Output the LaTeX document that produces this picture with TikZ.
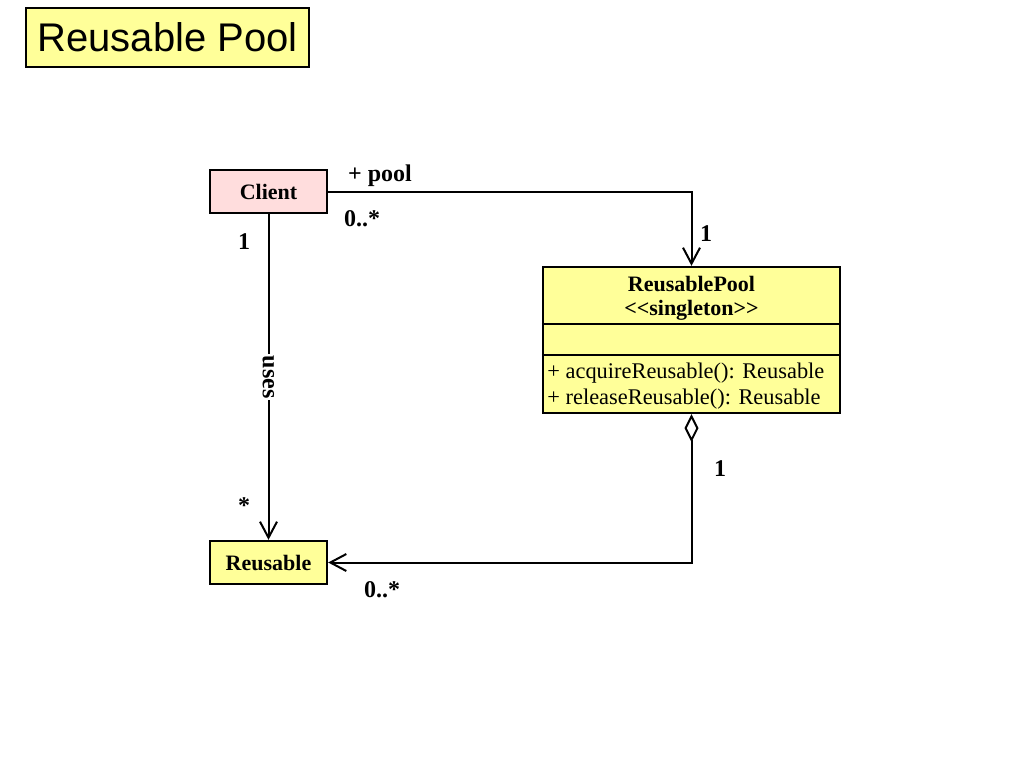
\documentclass[tikz,border=0pt]{standalone}
\usepackage{fontspec}
\setmainfont{Liberation Serif}
\newfontfamily\titlefont{Liberation Sans}
\usetikzlibrary{arrows.meta,positioning}
\definecolor{classyellow}{RGB}{255,255,153}
\definecolor{clientpink}{RGB}{255,221,221}

\begin{document}
\begin{tikzpicture}[x=0.5pt,y=-0.5pt,
    classbox/.style={draw,line width=1.2pt,minimum width=58.5pt,minimum height=21.5pt,inner sep=0pt,
      font=\fontsize{11}{13}\selectfont\bfseries},
    assoc/.style={line width=1pt,-{Straight Barb[length=8pt,width=8.5pt]}},
    mult/.style={inner sep=0pt,font=\fontsize{12}{14}\selectfont\bfseries},
    member/.style={inner sep=0pt,font=\fontsize{11.2}{13}\selectfont}]
  \useasboundingbox (0,0) rectangle (1024,768);

  % Title
  \node[draw,fill=classyellow,line width=0.6pt,minimum width=141.5pt,minimum height=29.5pt,
    font=\titlefont\fontsize{20}{24}\selectfont] (title) at (167.5,37.5) {Reusable Pool};

  % Classes
  \node[classbox,fill=clientpink] (client) at (268.5,191.5) {Client};
  \node[classbox,fill=classyellow] (reusable) at (268.5,562.5) {Reusable};
  \node[draw,fill=classyellow,line width=1.2pt,minimum width=148.5pt,minimum height=73pt] (pool) at (691.5,340) {};

  % compartments of ReusablePool
  \path (pool.north west) ++(0,58) coordinate (sepname);
  \path (pool.north west) ++(0,89) coordinate (sepattr);
  \draw[line width=0.9pt] (sepname) -- (sepname -| pool.east);
  \draw[line width=0.9pt] (sepattr) -- (sepattr -| pool.east);
  \node[member,font=\fontsize{11}{13}\selectfont\bfseries] (poolname) at (691.5,284) {ReusablePool};
  \node[member,font=\fontsize{11}{13}\selectfont\bfseries] (poolstereo) at (691.5,310) {<\kern0pt<singleton>\kern0pt>};
  \node[member,anchor=west] (opacquire) at (547,373) {+ acquireReusable(): Reusable};
  \node[member,anchor=west] (oprelease) at (547,399) {+ releaseReusable(): Reusable};

  % Client -> ReusablePool
  \draw[assoc] (client.east) -| (pool.north);
  \node[mult] (poolrole) at (380,176) {+ pool};
  \node[mult] (poolmultc) at (362,219) {0..*};
  \node[mult] (poolmultp) at (706,234) {1};

  % Client uses Reusable
  \draw[assoc] (client) -- node[fill=white,rotate=-90,inner sep=1pt,
    font=\fontsize{12}{14}\selectfont\bfseries] (useslabel) {uses} (reusable);
  \node[mult] (usesmultc) at (244,242) {1};
  \node[mult] (usesmultr) at (244,506) {*};

  % ReusablePool aggregates Reusable
  \draw[line width=1pt,{Diamond[open,fill=white,length=14pt,width=7pt]}-{Straight Barb[length=8pt,width=8.5pt]}]
    (pool.south) |- (reusable.east);
  \node[mult] (aggmultp) at (720,469) {1};
  \node[mult] (aggmultr) at (382,590) {0..*};
\end{tikzpicture}
\end{document}
